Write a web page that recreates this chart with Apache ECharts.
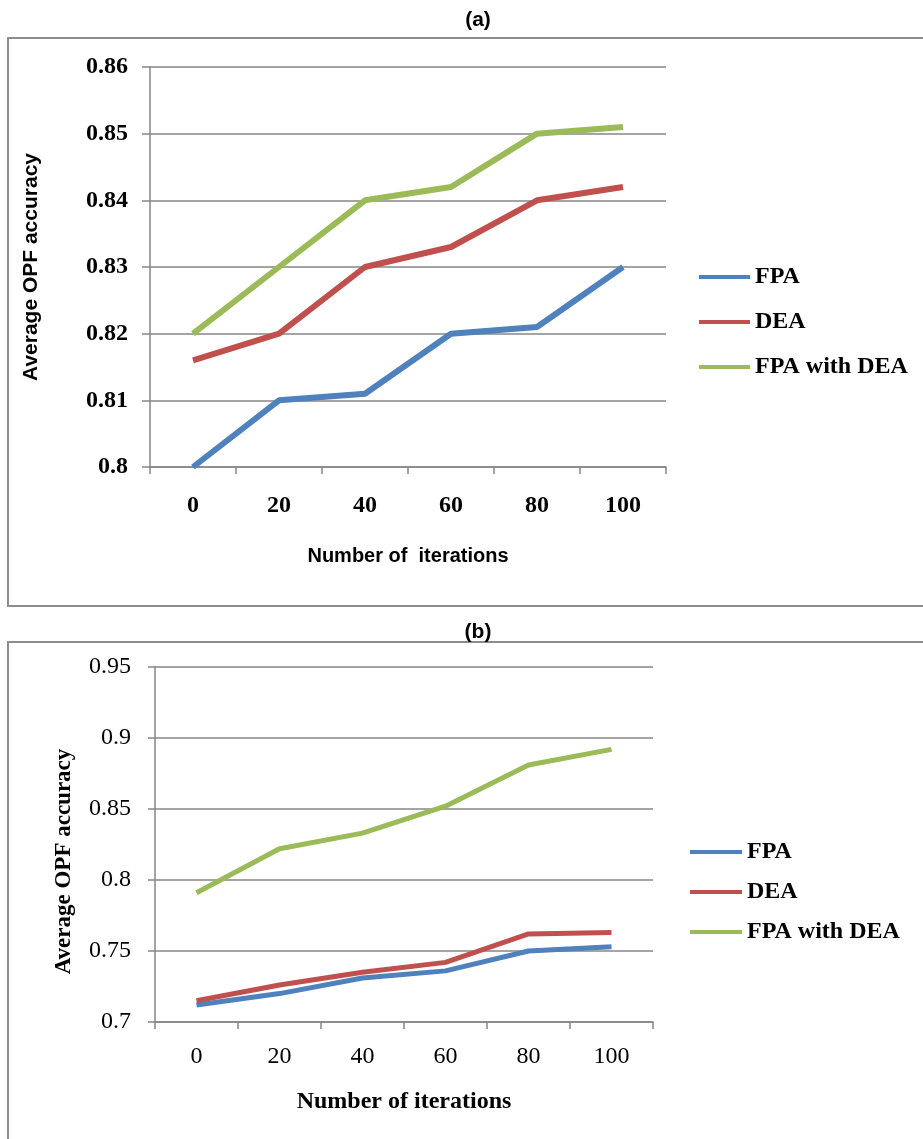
<!DOCTYPE html>
<html>
<head>
<meta charset="utf-8">
<script src="https://cdn.jsdelivr.net/npm/echarts@6/dist/echarts.min.js"></script>
<style>
  html, body { margin: 0; padding: 0; background: #fff; }
  #chart { width: 923px; height: 1139px; }
</style>
</head>
<body>
<div id="chart"></div>
<script>
// iterations on the x axis
const iterations = ['0', '20', '40', '60', '80', '100'];
const seriesNames = ['FPA', 'DEA', 'FPA with DEA'];
const colors = ['#4F81BD', '#C0504D', '#9BBB59'];

// panel (a)
const fpaA = [0.800, 0.810, 0.811, 0.820, 0.821, 0.830];
const deaA = [0.816, 0.820, 0.830, 0.833, 0.840, 0.842];
const bothA = [0.820, 0.830, 0.840, 0.842, 0.850, 0.851];

// panel (b)
const fpaB = [0.712, 0.720, 0.731, 0.736, 0.750, 0.753];
const deaB = [0.715, 0.726, 0.735, 0.742, 0.762, 0.763];
const bothB = [0.791, 0.822, 0.833, 0.852, 0.881, 0.892];

const serif = 'Liberation Serif';
const sans = 'Liberation Sans';
const gridGrey = '#868686';

let chart = echarts.init(document.getElementById('chart'));

const mkSeries = (name, data, idx, width) => ({
  name: name,
  type: 'line',
  xAxisIndex: idx,
  yAxisIndex: idx,
  data: data,
  symbol: 'none',
  lineStyle: { width: width, color: colors[seriesNames.indexOf(name)] },
  itemStyle: { color: colors[seriesNames.indexOf(name)] }
});

chart.setOption({
  animation: false,
  color: colors,
  title: [
    { text: '(a)', left: 473, top: 5, textAlign: 'center',
      textStyle: { fontFamily: sans, fontWeight: 'bold', fontSize: 21, color: '#000' } },
    { text: '(b)', left: 473, top: 617, textAlign: 'center',
      textStyle: { fontFamily: sans, fontWeight: 'bold', fontSize: 21, color: '#000' } }
  ],
  graphic: [
    { type: 'rect', shape: { x: 8, y: 38, width: 1000, height: 568 },
      style: { fill: 'none', stroke: '#8c8c8c', lineWidth: 2 } },
    { type: 'rect', shape: { x: 8, y: 642, width: 1000, height: 600 },
      style: { fill: 'none', stroke: '#8c8c8c', lineWidth: 2 } }
  ],
  legend: [
    { data: seriesNames, orient: 'vertical', left: 699, top: 264, padding: 0,
      icon: 'rect', itemWidth: 51, itemHeight: 4, itemGap: 19,
      selectedMode: false,
      textStyle: { fontFamily: serif, fontWeight: 'bold', fontSize: 24, lineHeight: 26, color: '#000' } },
    { data: seriesNames, orient: 'vertical', left: 690, top: 839, padding: 0,
      icon: 'rect', itemWidth: 52, itemHeight: 4, itemGap: 14,
      selectedMode: false,
      textStyle: { fontFamily: serif, fontWeight: 'bold', fontSize: 24, lineHeight: 26, color: '#000' } }
  ],
  grid: [
    { left: 150, top: 67, width: 516, height: 400 },
    { left: 155, top: 667, width: 498, height: 355 }
  ],
  xAxis: [
    { type: 'category', gridIndex: 0, data: iterations, boundaryGap: true,
      name: 'Number of  iterations', nameLocation: 'middle', nameGap: 79,
      nameTextStyle: { fontFamily: sans, fontWeight: 'bold', fontSize: 20, color: '#000' },
      axisLine: { lineStyle: { color: gridGrey, width: 1.5 } },
      axisTick: { show: true, length: 7, lineStyle: { color: gridGrey, width: 1.5 } },
      axisLabel: { margin: 27, fontFamily: serif, fontWeight: 'bold', fontSize: 24, color: '#000' } },
    { type: 'category', gridIndex: 1, data: iterations, boundaryGap: true,
      name: 'Number of iterations', nameLocation: 'middle', nameGap: 68,
      nameTextStyle: { fontFamily: serif, fontWeight: 'bold', fontSize: 24, color: '#000' },
      axisLine: { lineStyle: { color: gridGrey, width: 1.5 } },
      axisTick: { show: true, length: 7, lineStyle: { color: gridGrey, width: 1.5 } },
      axisLabel: { margin: 23, fontFamily: serif, fontSize: 24, color: '#000' } }
  ],
  yAxis: [
    { type: 'value', gridIndex: 0, min: 0.8, max: 0.86, interval: 0.01,
      name: 'Average OPF accuracy', nameLocation: 'middle', nameGap: 108,
      nameTextStyle: { fontFamily: sans, fontWeight: 'bold', fontSize: 21, color: '#000' },
      axisLine: { show: true, lineStyle: { color: gridGrey, width: 1.5 } },
      axisTick: { show: true, length: 8, lineStyle: { color: gridGrey, width: 1.5 } },
      splitLine: { lineStyle: { color: gridGrey, width: 1.5 } },
      axisLabel: { margin: 22, fontFamily: serif, fontWeight: 'bold', fontSize: 24, color: '#000' } },
    { type: 'value', gridIndex: 1, min: 0.7, max: 0.95, interval: 0.05,
      name: 'Average OPF accuracy', nameLocation: 'middle', nameGap: 79,
      nameTextStyle: { fontFamily: serif, fontWeight: 'bold', fontSize: 23, color: '#000',
        padding: [0, 34, 0, 0] },
      axisLine: { show: true, lineStyle: { color: gridGrey, width: 1.5 } },
      axisTick: { show: true, length: 7, lineStyle: { color: gridGrey, width: 1.5 } },
      splitLine: { lineStyle: { color: gridGrey, width: 1.5 } },
      axisLabel: { margin: 24, fontFamily: serif, fontSize: 24, color: '#000' } }
  ],
  series: [
    mkSeries('FPA', fpaA, 0, 6),
    mkSeries('DEA', deaA, 0, 6),
    mkSeries('FPA with DEA', bothA, 0, 6),
    mkSeries('FPA', fpaB, 1, 5),
    mkSeries('DEA', deaB, 1, 5),
    mkSeries('FPA with DEA', bothB, 1, 5)
  ]
});
</script>
</body>
</html>
